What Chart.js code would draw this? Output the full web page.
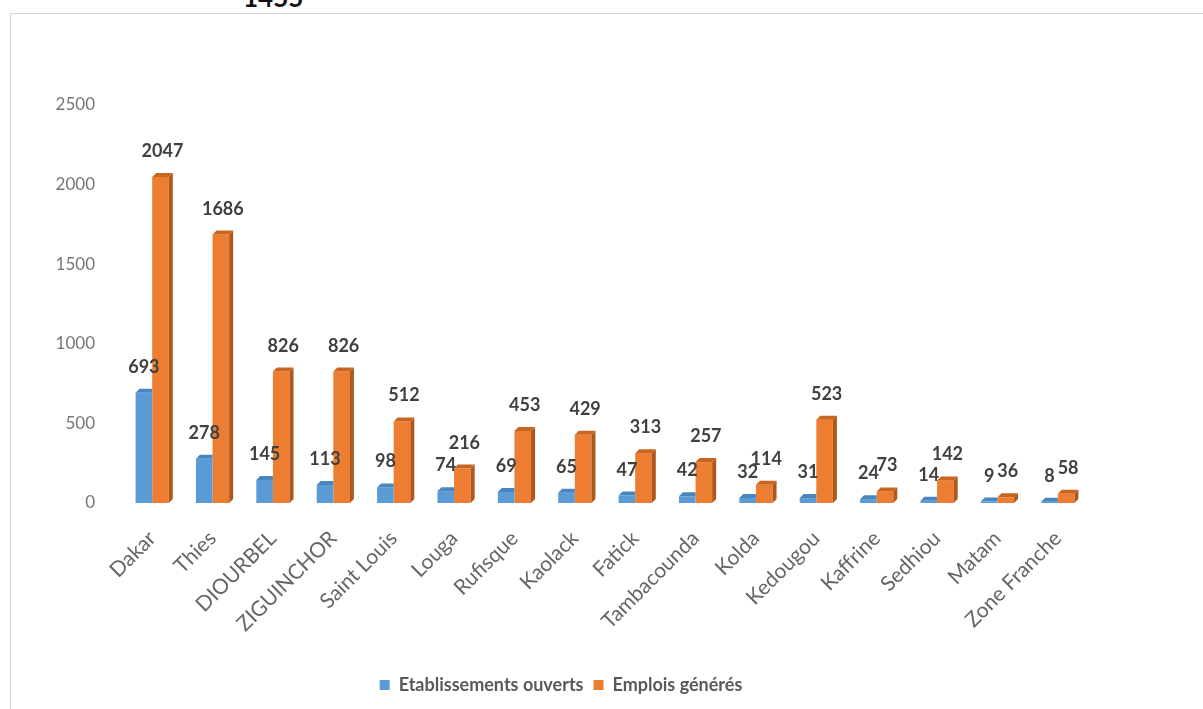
<!DOCTYPE html>
<html>
<head>
<meta charset="utf-8">
<script src="https://cdn.jsdelivr.net/npm/chart.js@4"></script>
<style>
  html, body { margin: 0; padding: 0; background: #fff; width: 1203px; height: 709px; overflow: hidden; position: relative; font-family: Lato, sans-serif; }
  #total { position: absolute; left: 243px; top: -16px; font: bold 26px Lato; line-height: 26px; color: #111; }
  #frame { position: absolute; left: 10px; top: 13px; width: 1200px; height: 700px; border-left: 1px solid #d6d6d6; border-top: 1px solid #d6d6d6; }
  #wrap { position: absolute; left: 10px; top: 13px; width: 1102px; height: 696px; }
</style>
</head>
<body>
<div id="total">1455</div>
<div id="frame"></div>
<div id="wrap"><canvas id="chart"></canvas></div>
<script>
const regions = ["Dakar", "Thies", "DIOURBEL", "ZIGUINCHOR", "Saint Louis", "Louga", "Rufisque", "Kaolack",
  "Fatick", "Tambacounda", "Kolda", "Kedougou", "Kaffrine", "Sedhiou", "Matam", "Zone Franche"];
const etablissements = [693, 278, 145, 113, 98, 74, 69, 65, 47, 42, 32, 31, 24, 14, 9, 8];
const emplois = [2047, 1686, 826, 826, 512, 216, 453, 429, 313, 257, 114, 523, 73, 142, 36, 58];
const yMax = 2500;
const yStep = 500;

const depth = 4;

// side and top faces to fake the 3D column look
// blue sits behind orange, so only its top face shows (clipped at its right edge)
const bars3d = {
  id: "bars3d",
  afterDatasetDraw(chart, args) {
    const ds = chart.data.datasets[args.index];
    const ctx = chart.ctx;
    const front = args.index === 0;
    args.meta.data.forEach((el) => {
      const { x, y, base, width } = el.getProps(["x", "y", "base", "width"], true);
      const l = x - width / 2;
      const r = x + width / 2;
      ctx.save();
      if (!front) {
        ctx.fillStyle = ds.sideColor;
        ctx.beginPath();
        ctx.moveTo(r, y);
        ctx.lineTo(r + depth, y - depth);
        ctx.lineTo(r + depth, base - depth);
        ctx.lineTo(r, base);
        ctx.closePath();
        ctx.fill();
      }
      ctx.fillStyle = ds.topColor;
      ctx.beginPath();
      ctx.moveTo(l, y);
      ctx.lineTo(l + depth, y - depth);
      ctx.lineTo(front ? r : r + depth, y - depth);
      ctx.lineTo(r, y);
      ctx.closePath();
      ctx.fill();
      ctx.restore();
    });
  },
};

const valueLabels = {
  id: "valueLabels",
  afterDatasetsDraw(chart) {
    const ctx = chart.ctx;
    ctx.save();
    ctx.font = "bold 18px Lato";
    ctx.fillStyle = "#404040";
    ctx.textAlign = "center";
    ctx.textBaseline = "alphabetic";
    chart.data.datasets.forEach((ds, i) => {
      chart.getDatasetMeta(i).data.forEach((el, j) => {
        const { x, y } = el.getProps(["x", "y"], true);
        ctx.fillText(ds.data[j], x + (i === 1 ? 2 : 0), y - 20);
      });
    });
    ctx.restore();
  },
};

new Chart(document.getElementById("chart"), {
  type: "bar",
  data: {
    labels: regions,
    datasets: [
      {
        label: "Etablissements ouverts",
        data: etablissements,
        backgroundColor: "#5B9BD5",
        sideColor: "#41719C",
        topColor: "#4A86BE",
        categoryPercentage: 0.55,
        barPercentage: 1,
      },
      {
        label: "Emplois générés",
        data: emplois,
        backgroundColor: "#ED7D31",
        sideColor: "#B0571C",
        topColor: "#C9651F",
        categoryPercentage: 0.55,
        barPercentage: 1,
      },
    ],
  },
  options: {
    responsive: true,
    maintainAspectRatio: false,
    animation: false,
    layout: {
      padding: { top: 92, left: 24, right: 24, bottom: 5 },
    },
    plugins: {
      tooltip: { enabled: false },
      legend: {
        position: "bottom",
        labels: {
          boxWidth: 10,
          boxHeight: 10,
          padding: 10,
          color: "#595959",
          font: { family: "Lato", size: 18, weight: "bold" },
        },
      },
    },
    scales: {
      x: {
        grid: { display: false },
        border: { display: false },
        ticks: {
          color: "#666666",
          font: { family: "Lato", size: 21 },
          maxRotation: 45,
          minRotation: 45,
          padding: 15,
        },
        afterFit: (scale) => { scale.height = 163; },
      },
      y: {
        min: 0,
        max: yMax,
        grid: { display: false },
        border: { display: false },
        ticks: {
          stepSize: yStep,
          color: "#767676",
          font: { family: "Lato", size: 17 },
          padding: 19,
          callback: (v) => String(v),
        },
        afterFit: (scale) => { scale.width = 88; },
      },
    },
  },
  plugins: [bars3d, valueLabels],
});
</script>
</body>
</html>
